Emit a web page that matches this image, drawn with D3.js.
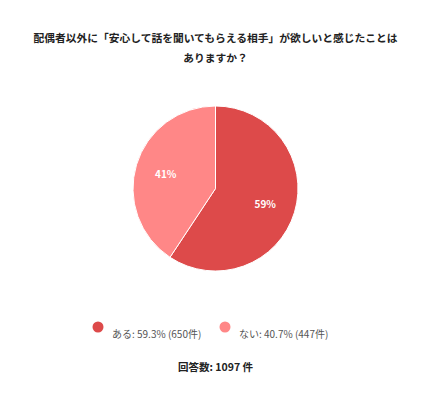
<!DOCTYPE html>
<html>
<head>
<meta charset="utf-8">
<script src="https://d3js.org/d3.v7.min.js"></script>
<style>
 body { margin: 0; background: #fff; }
 text { font-family: "Noto Sans CJK JP", "Noto Sans", sans-serif; }
</style>
</head>
<body>
<svg id="chart"></svg>
<script>
var titleLines = ["配偶者以外に「安心して話を聞いてもらえる相手」が欲しいと感じたことは", "ありますか？"];
var categories = ["ある", "ない"];
var percents = [59.3, 40.7];
var counts = [650, 447];
var colors = ["#dd4a4a", "#ff8787"];
var totalLabel = "回答数: 1097 件";

var width = 431, height = 400;
var cx = 215.5, cy = 188.5, radius = 82.5;

var svg = d3.select("#chart")
  .attr("width", width)
  .attr("height", height);

// title
svg.append("text")
  .attr("x", width / 2)
  .attr("y", 37)
  .attr("text-anchor", "middle")
  .attr("dominant-baseline", "central")
  .style("font-size", "10.75px")
  .style("font-weight", "bold")
  .attr("fill", "#222")
  .selectAll("tspan")
  .data(titleLines)
  .join("tspan")
  .attr("x", width / 2)
  .attr("dy", function(d, i) { return i ? 20 : 0; })
  .text(function(d) { return d; });

var slices = categories.map(function(c, i) {
  return {name: c, pct: percents[i], n: counts[i], color: colors[i]};
});

var pie = d3.pie().sort(null).value(function(d) { return d.pct; });
var arc = d3.arc().innerRadius(0).outerRadius(radius);
var labelArc = d3.arc().innerRadius(radius * 0.63).outerRadius(radius * 0.63);

var g = svg.append("g").attr("transform", "translate(" + cx + "," + cy + ")");
var arcs = pie(slices);

g.selectAll(".slice")
  .data(arcs)
  .join("path")
  .attr("class", "slice")
  .attr("d", arc)
  .attr("fill", function(d) { return d.data.color; })
  .attr("stroke", "#fff")
  .attr("stroke-width", 1);

g.selectAll(".plabel")
  .data(arcs)
  .join("text")
  .attr("class", "plabel")
  .attr("transform", function(d) { return "translate(" + labelArc.centroid(d) + ")"; })
  .attr("text-anchor", "middle")
  .attr("dominant-baseline", "central")
  .style("font-size", "10px")
  .style("font-weight", "bold")
  .attr("fill", "#fff")
  .text(function(d) { return Math.round(d.data.pct) + "%"; });

// legend
var legendX = [98, 225];
var legend = svg.selectAll(".legend")
  .data(slices)
  .join("g")
  .attr("class", "legend")
  .attr("transform", function(d, i) { return "translate(" + legendX[i] + ",327)"; });

legend.append("circle")
  .attr("r", 5.5)
  .attr("fill", function(d) { return d.color; });

legend.append("text")
  .attr("x", 14)
  .attr("y", 6)
  .attr("dominant-baseline", "central")
  .style("font-size", "10px")
  .attr("fill", "#555")
  .text(function(d) { return d.name + ": " + d.pct.toFixed(1) + "% (" + d.n + "件)"; });

svg.append("text")
  .attr("x", width / 2)
  .attr("y", 366)
  .attr("text-anchor", "middle")
  .attr("dominant-baseline", "central")
  .style("font-size", "10.5px")
  .style("font-weight", "bold")
  .attr("fill", "#222")
  .text(totalLabel);
</script>
</body>
</html>
